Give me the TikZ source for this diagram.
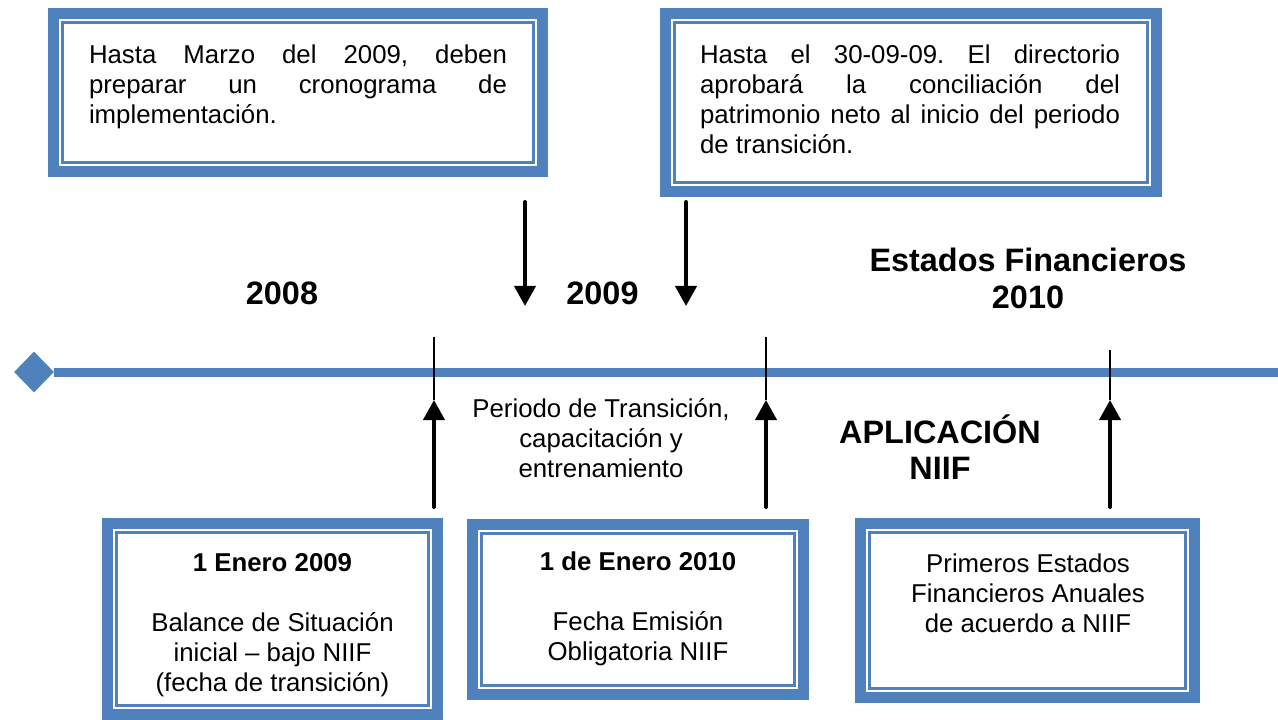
\documentclass[tikz,border=0pt]{standalone}
\usepackage{fontspec}
\setmainfont{Liberation Sans}
\usepackage{tikz}
\usetikzlibrary{arrows.meta,shapes.geometric,calc}
\definecolor{nblue}{RGB}{79,129,189}
\tolerance=10000
\hyphenpenalty=10000
\frenchspacing

\begin{document}
\begin{tikzpicture} [x=0.75pt, y=-0.75pt, >={Triangle[length=15pt, width=15.75pt]},
  framebox/.style={draw=nblue, line width=8.25pt, fill=white, inner sep=0pt, outer sep=0pt},
  innerframe/.style={draw=nblue, line width=2pt},
  bodytext/.style={inner sep=0pt, font=\fontsize{19.35}{22.5}\selectfont},
  bigtext/.style={inner sep=0pt, align=center, font=\fontsize{24.3}{27.75}\selectfont\bfseries},
  timeline/.style={draw=nblue, line width=6.75pt},
  tick/.style={line width=1.1pt},
  bigarrow/.style={->, line width=3pt, line cap=round}]

\useasboundingbox (0,0) rectangle (1278,720);

\node [shape=diamond, fill=nblue, minimum width=30pt, minimum height=30.75pt, inner sep=0pt] (start) at (34,372) {};
\coordinate (lineend) at (1278,372);
\draw [timeline] (start) -- (lineend);

\node [framebox, minimum width=366.75pt, minimum height=118.5pt] (boxMarzo) at (298,92.5) {};
\node [framebox, minimum width=368.25pt, minimum height=133.5pt] (boxSept) at (911,102.5) {};
\node [framebox, minimum width=247.5pt, minimum height=143.25pt] (boxEnero09) at (272.5,619) {};
\node [framebox, minimum width=248.25pt, minimum height=127.5pt] (boxEnero10) at (638,609.5) {};
\node [framebox, minimum width=250.5pt, minimum height=130.5pt] (boxAnual) at (1027.5,610.5) {};

\foreach \b in {boxMarzo,boxSept,boxEnero09,boxEnero10,boxAnual}
  \draw [innerframe] ($(\b.north west)+(9,9)$) rectangle ($(\b.south east)+(-9,-9)$);

\node [bodytext, text width=313.5pt, align=justify, anchor=north] (txtMarzo) at (298,44.5)
  {Hasta Marzo del 2009, deben\linebreak preparar un cronograma de\linebreak implementación.};
\node [bodytext, text width=315pt, align=justify, anchor=north] (txtSept) at (910,44.5)
  {Hasta el 30-09-09. El directorio\linebreak aprobará la conciliación del\linebreak patrimonio neto al inicio del periodo\linebreak de transición.};

\node [bodytext, align=center, anchor=north] (txtEnero09) at (272.5,553)
  {\textbf{1 Enero 2009}\\[22.5pt] Balance de Situación\\ inicial – bajo NIIF\\ (fecha de transición)};
\node [bodytext, align=center, anchor=north] (txtEnero10) at (638,552)
  {\textbf{1 de Enero 2010}\\[22.5pt] Fecha Emisión\\ Obligatoria NIIF};
\node [bodytext, align=center, anchor=north] (txtAnual) at (1028,554)
  {Primeros Estados\\ Financieros Anuales\\ de acuerdo a NIIF};
\node [bodytext, align=center, anchor=south] (periodo) at (601,478)
  {Periodo de Transición,\\ capacitación y\\ entrenamiento};

\foreach \t/\x in {2008/282,2009/602.5}
  \node [bigtext] (year\t) at (\x,293.5) {\t};
\node [bigtext, anchor=south] (estados) at (1028,309.5) {Estados Financieros\\ 2010};
\node [bigtext, anchor=south, font=\fontsize{24.3}{27}\selectfont\bfseries] (aplicacion) at (940,479.6) {APLICACIÓN\\ NIIF};

\foreach \x/\t [count=\i] in {434/337, 766/337, 1110/350} {
  \coordinate (tick-\i) at (\x,\t);
  \coordinate (tip-\i) at (\x,400);
  \coordinate (foot-\i) at (\x,507);
  \draw [tick] (tick-\i) -- (tip-\i);
  \draw [bigarrow] (foot-\i) -- (tip-\i);
}

\foreach \x [count=\i] in {525,686} {
  \coordinate (from-\i) at (\x,202);
  \coordinate (to-\i) at (\x,306);
  \draw [bigarrow] (from-\i) -- (to-\i);
}

\end{tikzpicture}
\end{document}
